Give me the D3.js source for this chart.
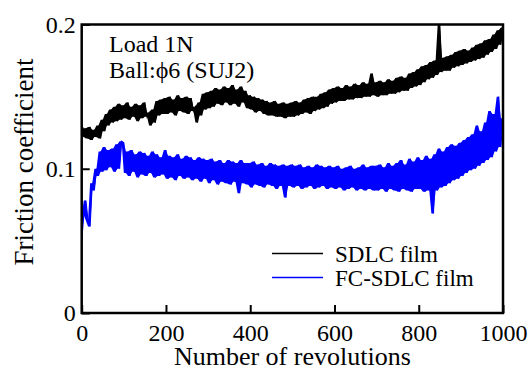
<!DOCTYPE html>
<html>
<head>
<meta charset="utf-8">
<script src="https://cdn.jsdelivr.net/npm/d3@7.9.0/dist/d3.min.js"></script>
<style>
  html, body { margin: 0; padding: 0; background: #fff; }
  svg text { font-family: "Liberation Serif", "Times New Roman", serif; fill: #000; }
</style>
</head>
<body>
<div id="chart"></div>
<script>
// friction coefficient, one reading every 5 revolutions (0..1000)
const sdlc = [
  0.131,0.122,0.128,0.121,0.129,0.120,0.127,0.122,0.130,0.121,0.134,0.126,0.138,0.130,0.141,0.132,0.143,0.133,0.145,0.134,
  0.144,0.135,0.146,0.134,0.143,0.136,0.145,0.133,0.144,0.135,0.146,0.136,0.139,0.130,0.141,0.132,0.147,0.137,0.148,0.138,
  0.149,0.138,0.150,0.139,0.148,0.137,0.151,0.140,0.149,0.139,0.150,0.138,0.149,0.140,0.143,0.132,0.146,0.137,0.152,0.141,
  0.153,0.142,0.154,0.143,0.156,0.145,0.155,0.144,0.157,0.146,0.156,0.144,0.158,0.145,0.155,0.143,0.157,0.146,0.154,0.142,
  0.151,0.141,0.150,0.139,0.149,0.140,0.148,0.138,0.147,0.137,0.146,0.137,0.147,0.136,0.145,0.136,0.146,0.135,0.145,0.136,
  0.146,0.136,0.147,0.137,0.146,0.138,0.148,0.139,0.149,0.138,0.150,0.140,0.150,0.141,0.152,0.142,0.153,0.143,0.155,0.145,
  0.156,0.146,0.157,0.147,0.156,0.147,0.158,0.148,0.157,0.148,0.159,0.149,0.158,0.149,0.160,0.150,0.159,0.150,0.166,0.151,
  0.160,0.150,0.161,0.151,0.160,0.151,0.162,0.152,0.161,0.152,0.163,0.153,0.164,0.154,0.163,0.154,0.166,0.156,0.167,0.157,
  0.169,0.158,0.171,0.160,0.172,0.162,0.174,0.163,0.175,0.165,0.200,0.167,0.177,0.168,0.178,0.168,0.179,0.170,0.181,0.171,
  0.182,0.172,0.183,0.173,0.182,0.174,0.184,0.175,0.186,0.176,0.187,0.177,0.189,0.179,0.190,0.181,0.193,0.183,0.196,0.186,
  0.198
];

const fcSdlc = [
  0.050,0.068,0.078,0.064,0.060,0.090,0.085,0.100,0.095,0.112,0.098,0.115,0.099,0.113,0.101,0.114,0.098,0.117,0.100,0.119,
  0.118,0.097,0.112,0.095,0.113,0.098,0.110,0.094,0.112,0.096,0.111,0.095,0.109,0.097,0.112,0.094,0.110,0.095,0.108,0.096,
  0.113,0.093,0.109,0.094,0.108,0.092,0.110,0.095,0.107,0.093,0.109,0.094,0.108,0.092,0.106,0.093,0.108,0.091,0.107,0.093,
  0.106,0.090,0.107,0.092,0.105,0.089,0.106,0.091,0.104,0.090,0.106,0.089,0.105,0.091,0.104,0.083,0.106,0.090,0.104,0.089,
  0.104,0.087,0.105,0.089,0.103,0.088,0.104,0.087,0.102,0.089,0.104,0.088,0.103,0.086,0.102,0.088,0.103,0.080,0.102,0.088,
  0.103,0.087,0.102,0.088,0.103,0.086,0.101,0.087,0.102,0.088,0.101,0.086,0.103,0.087,0.102,0.088,0.101,0.086,0.102,0.087,
  0.101,0.086,0.102,0.087,0.100,0.085,0.101,0.086,0.102,0.087,0.100,0.085,0.101,0.086,0.103,0.085,0.101,0.086,0.102,0.085,
  0.102,0.085,0.103,0.086,0.101,0.084,0.104,0.086,0.102,0.085,0.104,0.084,0.106,0.086,0.103,0.085,0.107,0.084,0.105,0.086,
  0.108,0.086,0.106,0.084,0.109,0.085,0.107,0.069,0.110,0.085,0.114,0.087,0.112,0.088,0.115,0.090,0.117,0.092,0.116,0.093,
  0.118,0.095,0.120,0.097,0.122,0.099,0.124,0.100,0.130,0.102,0.126,0.104,0.132,0.106,0.140,0.108,0.138,0.112,0.150,0.115,
  0.135
];

const revStep = 5;
const xTicks = [0, 200, 400, 600, 800, 1000];
const yTicks = [0, 0.1, 0.2];
const yTickLabels = ["0", "0.1", "0.2"];
const seriesNames = ["SDLC film", "FC-SDLC film"];
const seriesColors = ["#000000", "#0000ff"];
const noteLines = ["Load 1N", "Ball:\u03d56 (SUJ2)"];

const width = 532, height = 371;
const plot = { left: 81.7, right: 503, top: 24.5, bottom: 313 };
const serif = "Liberation Serif, Times New Roman, serif";

const svg = d3.select("#chart").append("svg")
    .attr("width", width)
    .attr("height", height);

const x = d3.scaleLinear().domain([0, 1000]).range([plot.left, plot.right]);
const y = d3.scaleLinear().domain([0, 0.2]).range([plot.bottom, plot.top]);

svg.append("defs").append("clipPath").attr("id", "plot")
  .append("rect")
    .attr("x", plot.left).attr("y", plot.top)
    .attr("width", plot.right - plot.left).attr("height", plot.bottom - plot.top);

const line = d3.line()
    .x((d, i) => x(i * revStep))
    .y(d => y(d));

// the trace is dense noise: fill between each reading and its neighbour
const band = d3.area()
    .x((d, i) => x(i * revStep))
    .y0((d, i, a) => y(Math.min(d, a[Math.min(i + 1, a.length - 1)])))
    .y1((d, i, a) => y(Math.max(d, a[Math.min(i + 1, a.length - 1)])));

const g = svg.append("g").attr("clip-path", "url(#plot)");

[sdlc, fcSdlc].forEach((s, k) => {
  g.append("path")
      .datum(s)
      .attr("fill", seriesColors[k])
      .attr("stroke", "none")
      .attr("d", band);
  g.append("path")
      .datum(s)
      .attr("fill", "none")
      .attr("stroke", seriesColors[k])
      .attr("stroke-width", 1.1)
      .attr("d", line);
});

// x axis ticks (inward) + labels
svg.append("g")
    .attr("transform", `translate(0,${plot.bottom})`)
    .call(d3.axisBottom(x).tickValues(xTicks).tickFormat(d3.format("d"))
      .tickSizeInner(-8).tickSizeOuter(0).tickPadding(16))
    .call(a => a.select(".domain").remove())
    .call(a => a.selectAll("line").attr("stroke-width", 2))
    .call(a => a.selectAll("text").attr("font-size", 24).attr("font-family", serif).attr("dy", "0.5em"));

// y axis
svg.append("g")
    .attr("transform", `translate(${plot.left},0)`)
    .call(d3.axisLeft(y).tickValues(yTicks).tickFormat((d, i) => yTickLabels[i])
      .tickSizeInner(-8).tickSizeOuter(0).tickPadding(6))
    .call(a => a.select(".domain").remove())
    .call(a => a.selectAll("line").attr("stroke-width", 2))
    .call(a => a.selectAll("text").attr("font-size", 24).attr("font-family", serif).attr("dy", "0.32em"));

// frame
svg.append("rect")
    .attr("x", plot.left).attr("y", plot.top)
    .attr("width", plot.right - plot.left).attr("height", plot.bottom - plot.top)
    .attr("fill", "none")
    .attr("stroke", "#000")
    .attr("stroke-width", 2.5);

// axis titles
svg.append("text")
    .attr("x", (plot.left + plot.right) / 2)
    .attr("y", 365)
    .attr("text-anchor", "middle")
    .attr("font-size", 26)
    .text("Number of revolutions");

svg.append("text")
    .attr("transform", `translate(33,162) rotate(-90)`)
    .attr("text-anchor", "middle")
    .attr("font-size", 27)
    .text("Friction coefficient");

// note
noteLines.forEach((t, i) => {
  svg.append("text")
      .attr("x", 109)
      .attr("y", 51.7 + i * 26.7)
      .attr("font-size", 24)
      .text(t);
});

// legend
const legend = svg.selectAll(".legend")
  .data(seriesNames)
  .join("g")
    .attr("transform", (d, i) => `translate(272,${253.5 + i * 24})`);

legend.append("line")
    .attr("x1", 0).attr("x2", 51)
    .attr("stroke", d => seriesColors[seriesNames.indexOf(d)])
    .attr("stroke-width", 1.3);

legend.append("text")
    .attr("x", 63)
    .attr("y", 8)
    .attr("font-size", 23)
    .text(d => d);
</script>
</body>
</html>
